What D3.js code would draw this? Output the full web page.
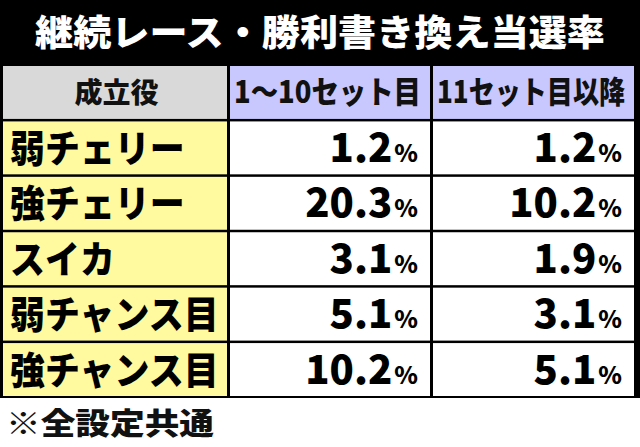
<!DOCTYPE html>
<html><head><meta charset="utf-8">
<script src="https://cdn.jsdelivr.net/npm/d3@7"></script>
<style>body{margin:0;background:#fff}</style>
</head><body>
<svg id="chart" width="640" height="447"></svg>
<script>
const title = "継続レース・勝利書き換え当選率";
const headers = ["成立役", "1〜10セット目", "11セット目以降"];
const roles = ["弱チェリー", "強チェリー", "スイカ", "弱チャンス目", "強チャンス目"];
const early = [1.2, 20.3, 3.1, 5.1, 10.2];
const late = [1.2, 10.2, 1.9, 3.1, 5.1];
const note = "※全設定共通";

const svg = d3.select("#chart");
const font = "'Noto Sans CJK JP', sans-serif";

// black frame behind the table
svg.append("rect").attr("x", 0).attr("y", 0).attr("width", 640).attr("height", 398).attr("fill", "#000");
svg.append("text").text(title)
      .attr("x", 320).attr("y", 46).attr("text-anchor", "middle")
      .attr("fill", "#fff").attr("font-family", font).attr("font-weight", 900).attr("font-size", 36)
      .attr("textLength", 570).attr("lengthAdjust", "spacingAndGlyphs");

const colX = [3, 230, 433, 637];
const yScale = d3.scaleBand().domain(d3.range(6)).range([66, 396]).paddingInner(0.045).paddingOuter(0);

// header row
const hdrFill = ["#d9d9d9", "#c8c8ff", "#c8c8ff"];
headers.forEach((h, i) => {
      svg.append("rect").attr("x", colX[i]).attr("y", yScale(0))
            .attr("width", colX[i + 1] - colX[i] - 3).attr("height", yScale.bandwidth()).attr("fill", hdrFill[i]);
      const t = svg.append("text").text(h)
            .attr("y", yScale(0) + yScale.bandwidth() / 2 + 11)
            .attr("font-family", font).attr("font-weight", 900).attr("font-size", 31).attr("fill", "#111");
      if (i == 0) t.attr("x", (colX[0] + colX[1]) / 2).attr("text-anchor", "middle").attr("font-size", 28);
      else t.attr("x", colX[i] + 4).attr("textLength", colX[i + 1] - colX[i] - 16).attr("lengthAdjust", "spacingAndGlyphs");
});

roles.forEach((r, k) => {
      const y = yScale(k + 1), h = yScale.bandwidth();
      svg.append("rect").attr("x", colX[0]).attr("y", y).attr("width", colX[1] - colX[0] - 3).attr("height", h).attr("fill", "#fff9a0");
      svg.append("text").text(r).attr("x", 10).attr("y", y + h / 2 + 14)
            .attr("font-family", font).attr("font-weight", 900).attr("font-size", 38).attr("fill", "#000")
            .attr("transform", `translate(10,0) scale(0.92,1) translate(-10,0)`);
      [early[k], late[k]].forEach((v, j) => {
            const x0 = colX[j + 1], x1 = colX[j + 2] - 3;
            svg.append("rect").attr("x", x0).attr("y", y).attr("width", x1 - x0).attr("height", h).attr("fill", "#fff");
            const t = svg.append("text").attr("x", x1 - 12).attr("y", y + h / 2 + 14).attr("text-anchor", "end")
                  .attr("font-family", font).attr("font-weight", 900).attr("fill", "#000");
            t.append("tspan").text(v.toFixed(1)).attr("font-size", 40);
            t.append("tspan").text("%").attr("font-size", 24).attr("dx", 2);
      });
});

svg.append("text").text(note).attr("x", 6).attr("y", 434)
      .attr("font-family", font).attr("font-weight", 900).attr("font-size", 30).attr("fill", "#111")
      .attr("textLength", 208).attr("lengthAdjust", "spacingAndGlyphs");
</script>
</body></html>
